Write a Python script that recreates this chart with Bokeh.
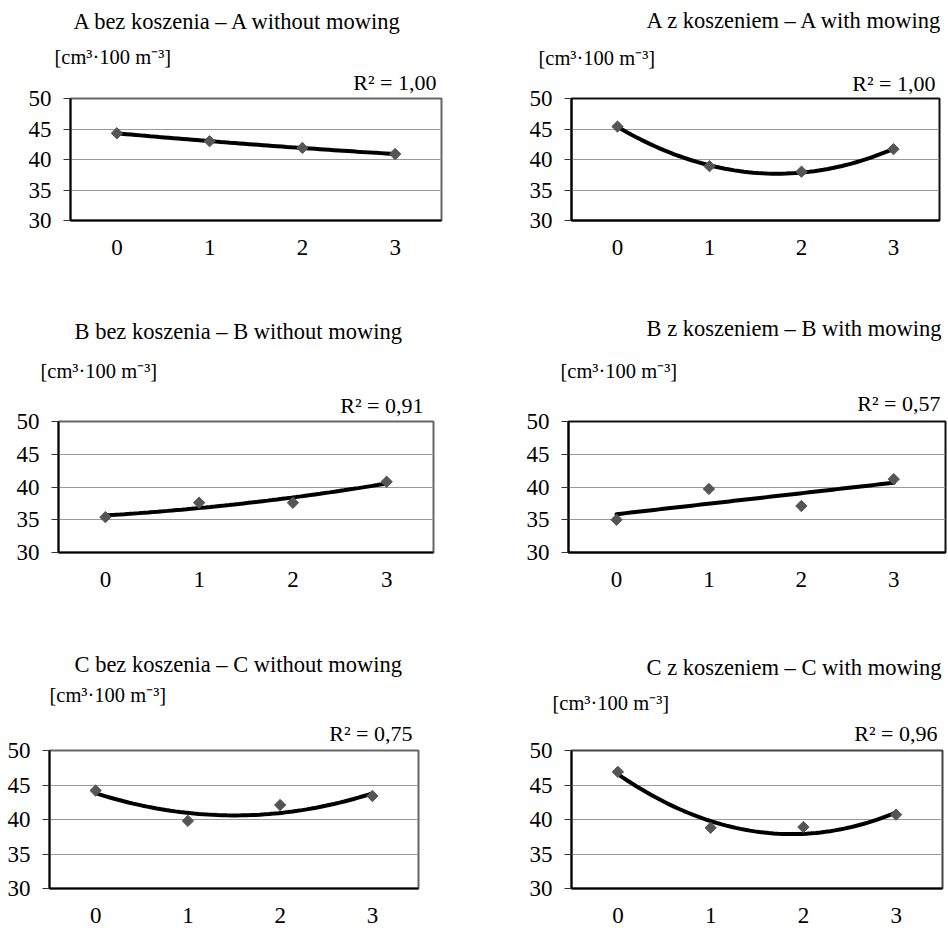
import numpy as np
from bokeh.plotting import figure
from bokeh.layouts import column, row
from bokeh.models import Title, FixedTicker, Range1d
from bokeh.embed import file_html
from bokeh.resources import INLINE

# ---------------- data ----------------
years = [0, 1, 2, 3]
y_ticks = [30, 35, 40, 45, 50]

a_without = [44.3, 43.0, 41.9, 40.9]
a_with = [45.4, 38.9, 38.0, 41.7]
b_without = [35.4, 37.6, 37.6, 40.8]
b_with = [35.0, 39.7, 37.1, 41.2]
c_without = [44.2, 39.8, 42.1, 43.4]
c_with = [46.9, 38.8, 38.9, 40.7]

titles = [
    "A bez koszenia – A without mowing",
    "A z koszeniem – A with mowing",
    "B bez koszenia – B without mowing",
    "B z koszeniem – B with mowing",
    "C bez koszenia – C without mowing",
    "C z koszeniem – C with mowing",
]
r2_texts = ["R² = 1,00", "R² = 1,00", "R² = 0,91", "R² = 0,57", "R² = 0,75", "R² = 0,96"]
trend_degree = [2, 2, 2, 1, 2, 2]
unit_text = "[cm³·100 m⁻³]"

series = [a_without, a_with, b_without, b_with, c_without, c_with]

# ---------------- layout (pixels) ----------------
FONT = "Liberation Serif"
ASC, DESC = 0.891, 0.216          # font box metrics (em)
SZ_R2, SZ_UNIT, SZ_TITLE = 22, 20.5, 22.5

# borders: (left, right, top, bottom)
# off: horizontal offsets (title[left-aligned], unit[left-aligned], r2[right-aligned])
# base: text baseline distance above frame top (r2, unit, title)
cells = [
    dict(w=474, h=300, b=(70, 33, 97, 80), xr=(-0.5, 3.5), outline="#666666",
         off=(3, -16, 5), base=(9.2, 34.4, 71.0)),
    dict(w=474, h=300, b=(97, 9, 98, 75), xr=(-0.5, 3.5), outline="#111111",
         off=(75, -33, 4), base=(7.0, 33.3, 71.6)),
    dict(w=474, h=340, b=(58, 41, 118, 88), xr=(-0.5, 3.5), outline="#666666",
         off=(16, -18, 10), base=(7.8, 43.7, 83.0)),
    dict(w=474, h=340, b=(94, 3, 121, 79), xr=(-0.52, 3.56), outline="#111111",
         off=(78, -8, 5), base=(10.7, 44.0, 85.7)),
    dict(w=474, h=288, b=(49, 56, 110, 38), xr=(-0.5, 3.5), outline="#666666",
         off=(25, 0, 6), base=(10.0, 48.8, 78.6)),
    dict(w=474, h=288, b=(97, 6, 107, 40), xr=(-0.5, 3.5), outline="#444444",
         off=(75, -19, 5), base=(9.4, 40.4, 75.4)),
]


def stack_titles(p, items):
    """items: list of (text, size, align, offset, baseline) ordered from the frame outward."""
    b = 0.0
    spacer_h = 2 + 1.0 * (ASC + DESC)
    for text, size, align, offset, baseline in items:
        target_bottom = baseline - DESC * size
        gap = target_bottom - b
        if gap >= spacer_h:
            p.add_layout(Title(text=" ", text_font_size="1px", standoff=gap - spacer_h,
                               text_color="white"), "above")
            b += gap
            s = 0.0
        else:
            s = 2 * gap
        p.add_layout(Title(text=text, align=align, offset=offset, standoff=s,
                           text_font=FONT, text_font_size=f"{size}px",
                           text_font_style="normal", text_color="black"), "above")
        b += 2 + (ASC + DESC) * size + s


def make_panel(i):
    c = cells[i]
    bl, br, bt, bb = c["b"]
    p = figure(width=c["w"], height=c["h"], output_backend="svg", toolbar_location=None,
               x_range=Range1d(*c["xr"]), y_range=Range1d(30, 50),
               min_border_left=bl, min_border_right=br, min_border_top=bt, min_border_bottom=bb,
               background_fill_color="white", border_fill_color="white")
    p.outline_line_color = c["outline"]
    p.outline_line_width = 2

    # axes
    p.xaxis.ticker = FixedTicker(ticks=years)
    p.yaxis.ticker = FixedTicker(ticks=y_ticks)
    for ax in (p.xaxis, p.yaxis):
        ax.axis_line_color = "black"
        ax.axis_line_width = 2
        ax.major_label_text_font = FONT
        ax.major_label_text_font_size = "23px"
        ax.major_label_text_color = "black"
        ax.minor_tick_line_color = None
    p.xaxis.major_tick_line_color = None
    p.xaxis.major_tick_out = 0
    p.xaxis.major_tick_in = 0
    p.xaxis.major_label_standoff = 19
    p.yaxis.major_tick_line_color = "#333333"
    p.yaxis.major_tick_out = 7
    p.yaxis.major_tick_in = 0
    p.yaxis.major_label_standoff = 12

    p.xgrid.grid_line_color = None
    p.ygrid.grid_line_color = "#999999"
    p.ygrid.grid_line_width = 1

    # trend line (least-squares fit of the plotted values)
    ys = series[i]
    coef = np.polyfit(years, ys, trend_degree[i])
    xs_fit = np.linspace(years[0], years[-1], 60)
    p.line(xs_fit, np.polyval(coef, xs_fit), line_color="black", line_width=4, line_cap="round")

    # data points
    p.scatter(years, ys, marker="square", size=8, angle=np.pi / 4,
              fill_color="#555555", line_color="#555555")

    # texts above the frame
    o_t, o_u, o_r = c["off"]
    b_r, b_u, b_t = c["base"]
    stack_titles(p, [
        (r2_texts[i], SZ_R2, "right", o_r, b_r),
        (unit_text, SZ_UNIT, "left", o_u, b_u),
        (titles[i], SZ_TITLE, "left", o_t, b_t),
    ])
    return p


panels = [make_panel(i) for i in range(6)]
layout = column(
    row(panels[0], panels[1], spacing=0),
    row(panels[2], panels[3], spacing=0),
    row(panels[4], panels[5], spacing=0),
    spacing=0,
)

open("out.html", "w").write(file_html(layout, INLINE))
